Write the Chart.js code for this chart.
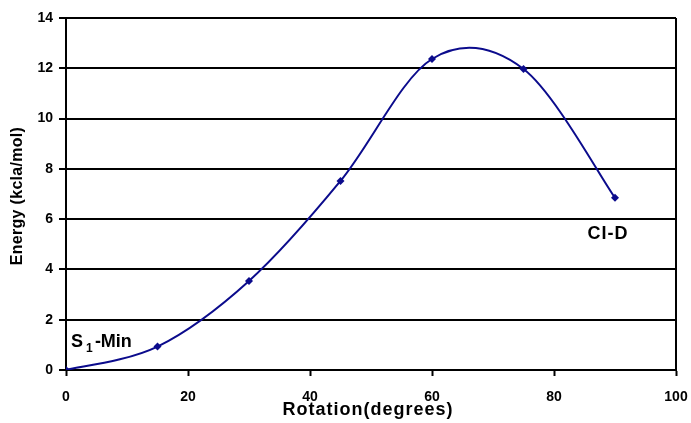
<!DOCTYPE html>
<html>
<head>
<meta charset="utf-8">
<script src="https://cdn.jsdelivr.net/npm/chart.js@4/dist/chart.umd.min.js"></script>
<style>
  html, body { margin: 0; padding: 0; background: #fff; }
  #wrap { width: 691px; height: 423px; }
</style>
</head>
<body>
<div id="wrap"><canvas id="c" width="691" height="423"></canvas></div>
<script>
// Torsional energy profile along the rotation coordinate
const rotation = [0, 15, 30, 45, 60, 75, 90];
const energy = [0, 0.93, 3.54, 7.52, 12.37, 11.97, 6.85];
const xTitle = 'Rotation(degrees)';
const yTitle = 'Energy (kcla/mol)';

const lineColor = '#0b0b8c';
const fontFam = '"Liberation Sans", Arial, sans-serif';

// Uniform Catmull-Rom smoothing: control points at P[i] +/- (P[i+1]-P[i-1])/6
const smoothPlugin = {
  id: 'smoothPlugin',
  beforeDatasetsDraw(chart) {
    chart.data.datasets.forEach((ds, di) => {
      const meta = chart.getDatasetMeta(di);
      const pts = meta.data;
      const n = pts.length;
      for (let i = 0; i < n; i++) {
        const p = pts[i];
        const prev = pts[Math.max(i - 1, 0)];
        const next = pts[Math.min(i + 1, n - 1)];
        const tx = (next.x - prev.x) / 6;
        const ty = (next.y - prev.y) / 6;
        p.cp1x = p.x - tx; p.cp1y = p.y - ty;
        p.cp2x = p.x + tx; p.cp2y = p.y + ty;
      }
      if (meta.dataset) meta.dataset._pointsUpdated = true;
    });
  }
};

const labelsPlugin = {
  id: 'labelsPlugin',
  afterDraw(chart) {
    const ctx = chart.ctx;
    const a = chart.chartArea;
    const xs = chart.scales.x, ys = chart.scales.y;
    ctx.save();
    // right frame edge
    ctx.strokeStyle = '#000';
    ctx.lineWidth = 2;
    ctx.beginPath();
    ctx.moveTo(a.right, a.top);
    ctx.lineTo(a.right, a.bottom);
    ctx.stroke();

    ctx.fillStyle = '#000';
    // axis titles
    ctx.textAlign = 'center';
    ctx.textBaseline = 'alphabetic';
    ctx.font = 'bold 18px ' + fontFam;
    ctx.letterSpacing = '1px';
    ctx.fillText(xTitle, 368, 415);
    ctx.font = 'bold 16px ' + fontFam;
    ctx.letterSpacing = '0.3px';
    ctx.save();
    ctx.translate(22, (a.top + a.bottom) / 2 + 2);
    ctx.rotate(-Math.PI / 2);
    ctx.fillText(yTitle, 0, 0);
    ctx.restore();
    ctx.letterSpacing = '0px';

    // point labels
    ctx.textAlign = 'left';
    ctx.font = 'bold 18px ' + fontFam;
    const sx = xs.getPixelForValue(0.8), sy = ys.getPixelForValue(0.9);
    ctx.fillText('S', sx, sy);
    ctx.font = 'bold 12px ' + fontFam;
    ctx.fillText('1', sx + 15, sy + 5);
    ctx.font = 'bold 18px ' + fontFam;
    ctx.fillText('-Min', sx + 24, sy);

    ctx.letterSpacing = '1px';
    ctx.fillText('CI-D', xs.getPixelForValue(85.5), ys.getPixelForValue(5.2));
    ctx.restore();
  }
};

new Chart(document.getElementById('c'), {
  type: 'line',
  data: {
    datasets: [{
      data: rotation.map((r, i) => ({ x: r, y: energy[i] })),
      borderColor: lineColor,
      backgroundColor: lineColor,
      borderWidth: 2,
      tension: 0.4,
      pointStyle: 'rectRot',
      pointRadius: 4,
      pointBorderWidth: 0,
      fill: false
    }]
  },
  options: {
    responsive: false,
    animation: false,
    layout: { padding: { left: 0, right: 15, top: 18, bottom: 0 } },
    plugins: { legend: { display: false }, tooltip: { enabled: false } },
    scales: {
      x: {
        type: 'linear',
        min: 0, max: 100,
        afterFit(s) { s.height = 53; s.paddingLeft = 0; s.paddingRight = 0; },
        ticks: { stepSize: 20, color: '#000', font: { family: fontFam, size: 14, weight: 'bold' }, padding: 13, maxRotation: 0 },
        grid: { display: true, drawOnChartArea: false, drawTicks: true, tickLength: 6, tickColor: '#000', tickWidth: 2 },
        border: { display: true, color: '#000', width: 2 }
      },
      y: {
        min: 0, max: 14,
        afterFit(s) { s.width = 66; },
        ticks: { stepSize: 2, color: '#000', font: { family: fontFam, size: 14, weight: 'bold' }, padding: 6 },
        grid: { color: '#000', lineWidth: 2, drawTicks: true, tickLength: 7, tickColor: '#000', tickWidth: 2 },
        border: { display: true, color: '#000', width: 2 }
      }
    }
  },
  plugins: [smoothPlugin, labelsPlugin]
});
</script>
</body>
</html>
